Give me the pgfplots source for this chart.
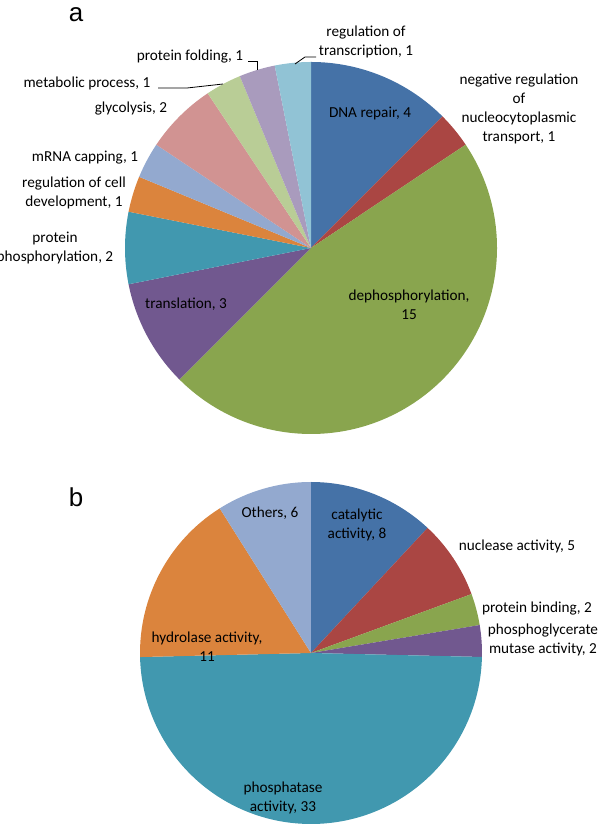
\documentclass[border=0pt]{standalone}
\usepackage{pgfplots}
\usepackage{pgfplotstable}
\pgfplotsset{compat=1.18}
\usepackage{fontspec}
\setmainfont{Carlito}
\newfontfamily\panelfont{Liberation Sans}

\definecolor{cA}{HTML}{4572A7}
\definecolor{cB}{HTML}{AA4643}
\definecolor{cC}{HTML}{89A54E}
\definecolor{cD}{HTML}{71588F}
\definecolor{cE}{HTML}{4198AF}
\definecolor{cF}{HTML}{DB843D}
\definecolor{cG}{HTML}{93A9CF}
\definecolor{cH}{HTML}{D19392}
\definecolor{cI}{HTML}{B9CD96}
\definecolor{cJ}{HTML}{A99BBD}
\definecolor{cK}{HTML}{91C3D5}

% Panel a: biological process (counts), clockwise from 12 o'clock
\pgfplotstableread{
value color
4  cA
1  cB
15 cC
3  cD
2  cE
1  cF
1  cG
2  cH
1  cI
1  cJ
1  cK
}\dataA

% Panel b: molecular function (counts), clockwise from 12 o'clock
\pgfplotstableread{
value color
8  cA
5  cB
2  cC
2  cD
33 cE
11 cF
6  cG
}\dataB

% #1 table, #2 centre x, #3 centre y (image px), #4 radius
\newcommand{\drawpie}[4]{%
  \pgfplotstablegetrowsof{#1}\let\nrows\pgfplotsretval
  \pgfmathtruncatemacro\lastrow{\nrows-1}%
  \def\pietotal{0}%
  \pgfplotsforeachungrouped \i in {0,...,\lastrow}{%
    \pgfplotstablegetelem{\i}{value}\of{#1}%
    \pgfmathsetmacro\pietotal{\pietotal+\pgfplotsretval}%
  }%
  \def\pieangle{90}%
  \pgfplotsforeachungrouped \i in {0,...,\lastrow}{%
    \pgfplotstablegetelem{\i}{value}\of{#1}\let\pv\pgfplotsretval
    \pgfplotstablegetelem{\i}{color}\of{#1}\let\pc\pgfplotsretval
    \pgfmathsetmacro\pieend{\pieangle-\pv/\pietotal*360}%
    \pgfmathsetmacro\sx{#2+#4*cos(\pieangle)}%
    \pgfmathsetmacro\sy{-#3+#4*sin(\pieangle)}%
    \edef\temp{\noexpand\fill[\pc] (axis cs:#2,-#3) -- (axis cs:\sx,\sy)
      arc[start angle=\pieangle, end angle=\pieend, radius=#4bp] -- cycle;}%
    \temp
    \let\pieangle\pieend
  }%
}

\tikzset{lbl/.style={inner sep=0pt, align=center, font=\fontsize{15.3}{19.2}\selectfont, text=black},
  panel/.style={inner sep=0pt, font=\panelfont\fontsize{26}{30}\selectfont}}

\begin{document}
\begin{tikzpicture}
\useasboundingbox (0,0) rectangle (600bp,825bp);
\begin{axis}[at={(0,0)}, anchor=south west, scale only axis,
  width=600bp, height=825bp, xmin=0, xmax=600, ymin=-825, ymax=0,
  hide axis, clip=false]

\drawpie{\dataA}{311}{248}{186}
\drawpie{\dataB}{311}{653}{171}

% panel letters
\node[panel] at (axis cs:76,-15) {a};
\node[panel] at (axis cs:76,-497) {b};

% labels panel a
\node[lbl] at (axis cs:366,-42) {regulation of\\transcription, 1};
\node[lbl] at (axis cs:519,-109) {negative regulation\\of\\nucleocytoplasmic\\transport, 1};
\node[lbl] at (axis cs:370,-113) {DNA repair, 4};
\node[lbl] at (axis cs:409,-305) {dephosphorylation,\\15};
\node[lbl] at (axis cs:186,-304) {translation, 3};
\node[lbl] at (axis cs:55,-248) {protein\\phosphorylation, 2};
\node[lbl] at (axis cs:74,-193) {regulation of cell\\development, 1};
\node[lbl] at (axis cs:85,-158) {mRNA capping, 1};
\node[lbl] at (axis cs:131,-109) {glycolysis, 2};
\node[lbl] at (axis cs:87,-83) {metabolic process, 1};
\node[lbl] at (axis cs:190,-57) {protein folding, 1};

\draw[black, line width=0.8bp] (axis cs:295,-64) -- (axis cs:305,-57) -- (axis cs:316,-57);
\draw[black, line width=0.8bp] (axis cs:158,-88) -- (axis cs:187,-88) -- (axis cs:223,-84);
\draw[black, line width=0.8bp] (axis cs:248,-61) -- (axis cs:257,-61) -- (axis cs:257,-70);

% labels panel b
\node[lbl] at (axis cs:270,-513) {Others, 6};
\node[lbl] at (axis cs:357,-525) {catalytic\\activity, 8};
\node[lbl] at (axis cs:517,-546) {nuclease activity, 5};
\node[lbl] at (axis cs:537,-609) {protein binding, 2};
\node[lbl] at (axis cs:543,-640) {phosphoglycerate\\mutase activity, 2};
\node[lbl] at (axis cs:207,-647) {hydrolase activity,\\11};
\node[lbl] at (axis cs:283,-798) {phosphatase\\activity, 33};
\end{axis}
\end{tikzpicture}
\end{document}
